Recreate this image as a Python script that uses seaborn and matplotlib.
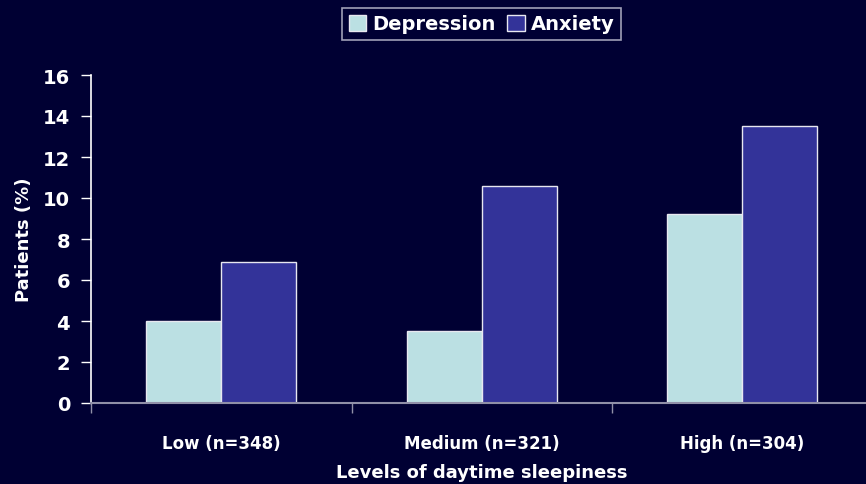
import matplotlib
matplotlib.use("Agg")
import matplotlib.pyplot as plt
import seaborn as sns
import pandas as pd
from matplotlib.ticker import FixedLocator

# Data
categories = ["Low (n=348)", "Medium (n=321)", "High (n=304)"]
depression = [4.0, 3.5, 9.2]
anxiety = [6.9, 10.6, 13.5]
series_names = ["Depression", "Anxiety"]
y_ticks = [0, 2, 4, 6, 8, 10, 12, 14, 16]

BG = "#000033"
colors = {"Depression": "#BBE0E3", "Anxiety": "#333399"}

df = pd.DataFrame({
    "level": categories * 2,
    "value": depression + anxiety,
    "series": [series_names[0]] * 3 + [series_names[1]] * 3,
})

sns.set_theme(style="dark")
plt.rcParams["font.family"] = ["DejaVu Sans"]

fig = plt.figure(figsize=(8.66, 4.85), dpi=100, facecolor=BG)
ax = fig.add_axes([91 / 866, 81 / 485, (872.5 - 91) / 866, 328 / 485])
ax.set_facecolor(BG)

sns.barplot(data=df, x="level", y="value", hue="series", palette=colors,
            width=0.575, gap=0, edgecolor="#e8e8f0", linewidth=1.0,
            saturation=1, ax=ax, legend=True)

ax.set_ylim(0, 16)
ax.set_xlim(-0.5, 2.5)
ax.set_yticks(y_ticks)
ax.set_yticklabels([str(t) for t in y_ticks], fontsize=14, fontweight="bold", color="white")
ax.set_xticklabels(categories, fontsize=12, fontweight="bold", color="white")

ax.tick_params(axis="y", direction="out", length=7, width=1, color="white", pad=8, left=True)
ax.tick_params(axis="x", which="major", length=0, pad=22)
ax.xaxis.set_minor_locator(FixedLocator([-0.5, 0.5, 1.5, 2.5]))
ax.tick_params(axis="x", which="minor", direction="out", length=7, width=1,
               color="#9090a8", bottom=True)

for side in ["top", "right"]:
    ax.spines[side].set_visible(False)
ax.spines["left"].set_color("white")
ax.spines["left"].set_linewidth(1.2)
ax.spines["bottom"].set_color("#9090a8")
ax.spines["bottom"].set_linewidth(1.5)
ax.grid(False)

ax.set_ylabel("Patients (%)", fontsize=13, fontweight="bold", color="white", labelpad=7)
ax.set_xlabel("Levels of daytime sleepiness", fontsize=13, fontweight="bold", color="white", labelpad=8)

handles, labels = ax.get_legend_handles_labels()
ax.get_legend().remove()
leg = fig.legend(handles, labels, loc="center", bbox_to_anchor=(481.5 / 866, 1 - 25 / 485),
                 ncol=2, frameon=True, fancybox=False, handlelength=0.9, handleheight=0.9,
                 handletextpad=0.3, columnspacing=0.6, borderpad=0.35,
                 prop={"size": 14, "weight": "bold"})
leg.get_frame().set_facecolor(BG)
leg.get_frame().set_edgecolor("#c8c8d8")
leg.get_frame().set_linewidth(1.2)
for t in leg.get_texts():
    t.set_color("white")

fig.savefig("out.png", dpi=100, facecolor=BG)
